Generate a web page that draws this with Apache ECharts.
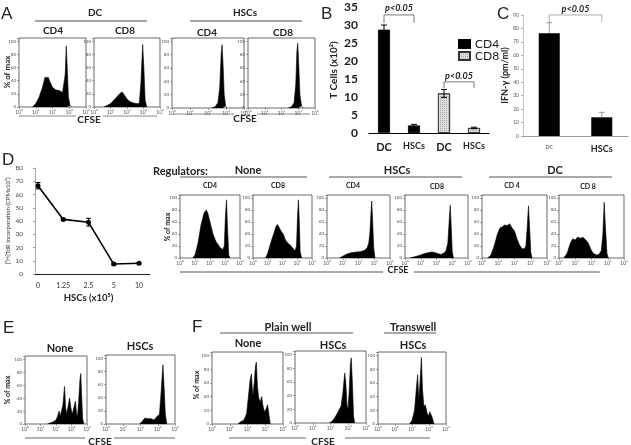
<!DOCTYPE html>
<html><head><meta charset="utf-8">
<script src="https://cdn.jsdelivr.net/npm/echarts@6/dist/echarts.min.js"></script>
<style>html,body{margin:0;padding:0;background:#fff}#c{width:631px;height:445px}</style>
</head><body><div id="c"></div>
<script>
// ---------- data ----------
const cfseTicks = ['10⁰','10¹','10²','10³','10⁴'];
// histograms: [log10 CFSE, % of max]
const aDcCd4 = [[0.8,0],[1.0,5],[1.2,15],[1.4,30],[1.55,45],[1.65,48],[1.75,45],[1.85,38],[2.0,30],[2.2,26],[2.4,25],[2.6,22],[2.7,25],[2.76,50],[2.82,93],[2.88,60],[2.95,15],[3.05,2],[3.15,0]];
const aDcCd8 = [[0.6,0],[1.0,5],[1.3,13],[1.55,20],[1.7,23],[1.85,18],[2.0,12],[2.2,8],[2.4,6],[2.6,5],[2.75,6],[2.85,40],[2.95,95],[3.02,60],[3.1,10],[3.2,0]];
const aHscCd4 = [[2.2,0],[2.4,2],[2.55,8],[2.65,30],[2.73,80],[2.78,95],[2.83,70],[2.9,20],[2.98,3],[3.05,0]];
const aHscCd8 = [[2.4,0],[2.6,2],[2.75,8],[2.85,35],[2.92,85],[2.97,97],[3.02,70],[3.1,20],[3.2,3],[3.3,0]];
const dNoneCd4 = [[0.85,0],[1.0,5],[1.2,25],[1.4,55],[1.6,75],[1.75,80],[1.85,75],[2.0,60],[2.2,40],[2.4,27],[2.55,22],[2.65,18],[2.75,20],[2.85,14],[2.95,20],[3.03,70],[3.1,97],[3.16,55],[3.25,5],[3.33,0]];
const dNoneCd8 = [[0.85,0],[1.0,8],[1.2,25],[1.4,40],[1.55,52],[1.65,56],[1.75,52],[1.9,45],[2.05,40],[2.2,30],[2.35,25],[2.5,22],[2.65,18],[2.75,20],[2.85,12],[2.95,20],[3.02,70],[3.08,97],[3.14,60],[3.2,10],[3.3,0]];
const dHscCd4 = [[0.8,0],[1.0,3],[1.3,7],[1.6,9],[1.9,10],[2.2,11],[2.4,13],[2.55,17],[2.65,25],[2.72,40],[2.78,70],[2.84,95],[2.9,60],[2.97,15],[3.05,0]];
const dHscCd8 = [[0.3,0],[0.6,2],[0.9,4],[1.2,7],[1.5,9],[1.7,10],[1.9,9],[2.1,7],[2.3,6],[2.45,8],[2.6,12],[2.72,25],[2.8,60],[2.87,88],[2.93,55],[3.0,10],[3.08,0]];
const dDcCd4 = [[0.35,0],[0.55,5],[0.75,20],[0.95,40],[1.1,50],[1.25,52],[1.4,55],[1.55,54],[1.7,57],[1.85,50],[2.0,45],[2.15,32],[2.3,22],[2.45,16],[2.6,15],[2.7,20],[2.78,50],[2.86,87],[2.93,50],[3.0,10],[3.08,0]];
const dDcCd8 = [[0.3,0],[0.5,8],[0.7,25],[0.85,32],[1.0,30],[1.15,35],[1.3,33],[1.5,34],[1.65,30],[1.8,25],[1.95,15],[2.1,8],[2.3,5],[2.45,6],[2.6,12],[2.7,40],[2.78,93],[2.86,50],[2.95,8],[3.03,0]];
const eNone = [[1.45,0],[1.55,2],[1.8,3],[2.0,6],[2.1,12],[2.2,20],[2.28,12],[2.35,10],[2.45,30],[2.55,58],[2.62,25],[2.7,15],[2.8,30],[2.88,40],[2.96,25],[3.05,15],[3.15,25],[3.25,35],[3.32,18],[3.38,10],[3.45,30],[3.55,70],[3.6,78],[3.66,40],[3.72,8],[3.8,0]];
const eHsc = [[1.95,0],[2.1,4],[2.25,9],[2.35,12],[2.45,8],[2.55,7],[2.62,8],[2.72,5],[2.8,6],[2.9,10],[3.0,8],[3.1,15],[3.2,50],[3.3,90],[3.36,60],[3.44,15],[3.52,0]];
const fNone = [[1.45,0],[1.6,3],[1.8,6],[1.95,15],[2.05,40],[2.15,65],[2.22,73],[2.3,40],[2.38,60],[2.45,85],[2.5,90],[2.56,55],[2.63,38],[2.72,32],[2.8,40],[2.86,28],[2.95,18],[3.05,22],[3.13,28],[3.2,15],[3.28,0]];
const fHsc = [[1.95,0],[2.1,3],[2.25,8],[2.4,15],[2.5,17],[2.6,25],[2.7,45],[2.8,73],[2.86,60],[2.93,25],[2.98,20],[3.05,45],[3.12,85],[3.17,95],[3.23,60],[3.3,10],[3.36,0]];
const fTransHsc = [[1.85,0],[2.0,5],[2.15,20],[2.25,50],[2.33,72],[2.4,35],[2.47,60],[2.55,97],[2.62,50],[2.7,25],[2.78,28],[2.85,30],[2.9,15],[2.98,12],[3.05,18],[3.1,20],[3.18,10],[3.3,0]];

// panel B
const bCategories = ['DC','HSCs','DC ','HSCs '];
const bCd4 = [28.7, 2.1, '-', '-'];
const bCd8 = ['-', '-', 11.0, 1.4];
const bErrHi = [30.0, 2.4, 12.1, 1.6];
const bErrLo = [27.4, 1.8, 9.9, 1.2];
// panel C
const cCategories = ['DC','HSCs'];
const cValues = [76.4, 13.9];
const cErrHi = [84.3, 17.6];
// panel D
const dDoses = ['0','1.25','2.5','5','10'];
const dValues = [66.6, 41.2, 39.0, 7.5, 8.1];
const dErrHi = [69.0, 42.0, 42.0, 8.3, 8.7];
const dErrLo = [64.2, 40.4, 36.2, 6.8, 7.5];
// significance brackets: [fromCat, toCat, level, dropTo, labelLevel]
const bBrackets = [[0,1,32.8,30.6,34.6],[2,3,14.2,12.5,15.9]];
const cBrackets = [[0,1,90,84.8,94.6]];
const pLabel = 'p<0.05';

// ---------- build ----------
const FONT = 'Lato';
const grids=[], xAxes=[], yAxes=[], series=[];
function addHist(box, data){
  const gi = grids.length;
  grids.push({left:box[0], top:box[1], width:box[2], height:box[3], show:true, borderColor:'#444', borderWidth:0.8});
  xAxes.push({gridIndex:gi, type:'value', min:0, max:4, interval:1, axisLine:{show:false}, splitLine:{show:false},
    axisTick:{show:true,length:2,lineStyle:{color:'#666',width:0.6}},
    axisLabel:{fontSize:5, color:'#555', margin:3, formatter:v=>cfseTicks[v]||''}});
  yAxes.push({gridIndex:gi, type:'value', min:0, max:105, interval:20, axisLine:{show:false}, splitLine:{show:false},
    axisTick:{show:true,length:2,lineStyle:{color:'#666',width:0.6}},
    axisLabel:{fontSize:4.5, color:'#555', margin:3, formatter:v=>(v%20===0&&v<=100)?String(v):''}});
  series.push({type:'line', xAxisIndex:gi, yAxisIndex:gi, data:data, symbol:'none', showSymbol:false,
    lineStyle:{color:'#000', width:0.6}, areaStyle:{color:'#000', opacity:1}, silent:true});
}
// A
addHist([19,38,67,69], aDcCd4);
addHist([94,38,66,69], aDcCd8);
addHist([172,38,72,70], aHscCd4);
addHist([248,38,67,70], aHscCd8);
// D histos
addHist([180,195,60,63], dNoneCd4);
addHist([253,195,59,63], dNoneCd8);
addHist([327,195,63,63], dHscCd4);
addHist([405,195,63,63], dHscCd8);
addHist([482,195,65,63], dDcCd4);
addHist([559,195,65,63], dDcCd8);
// E
addHist([25,356,62,68], eNone);
addHist([106,355,69,69], eHsc);
// F
addHist([212,352,71,72], fNone);
addHist([295,351,71,72], fHsc);
addHist([378,352,68,72], fTransHsc);

function errItem(color, capW, upOnly){
  return function(params, api){
    const c = api.coord([api.value(0), api.value(1)]);
    const hi = api.coord([api.value(0), api.value(2)]);
    const lo = api.coord([api.value(0), api.value(3)]);
    const st = {stroke:color, lineWidth:1};
    const ch = [
      {type:'line', shape:{x1:c[0],y1:hi[1],x2:c[0],y2:upOnly?c[1]:lo[1]}, style:st},
      {type:'line', shape:{x1:c[0]-capW,y1:hi[1],x2:c[0]+capW,y2:hi[1]}, style:st}];
    if(!upOnly) ch.push({type:'line', shape:{x1:c[0]-capW,y1:lo[1],x2:c[0]+capW,y2:lo[1]}, style:st});
    return {type:'group', children:ch};
  };
}
function bracketItem(color, fontSize){
  return function(params, api){
    const a = api.coord([api.value(0), api.value(2)]);
    const b = api.coord([api.value(1), api.value(2)]);
    const d = api.coord([api.value(0), api.value(3)]);
    const t = api.coord([api.value(0), api.value(4)]);
    const st = {stroke:color, lineWidth:0.8};
    return {type:'group', children:[
      {type:'line', shape:{x1:a[0],y1:a[1],x2:b[0],y2:b[1]}, style:st},
      {type:'line', shape:{x1:a[0],y1:a[1],x2:a[0],y2:d[1]}, style:st},
      {type:'line', shape:{x1:b[0],y1:b[1],x2:b[0],y2:d[1]}, style:st},
      {type:'text', x:(a[0]+b[0])/2, y:t[1], style:{text:pLabel, textAlign:'center', textVerticalAlign:'middle',
        font:'italic bold '+fontSize+'px '+FONT, fill:'#222'}}
    ]};
  };
}

// B
const gB = grids.length;
grids.push({left:369, top:7, width:120, height:126});
xAxes.push({gridIndex:gB, type:'category', data:bCategories, axisLine:{lineStyle:{color:'#000',width:1}}, axisTick:{show:false},
  axisLabel:{margin:9, interval:0, formatter:v=>v.trim()==='DC'?'{a|DC}':'{b|HSCs}',
    rich:{a:{fontSize:11,fontWeight:'bold',fontFamily:FONT,color:'#222'}, b:{fontSize:9,fontWeight:'bold',fontFamily:FONT,color:'#222'}}}});
yAxes.push({gridIndex:gB, type:'value', min:0, max:35, interval:5, axisLine:{show:false}, axisTick:{show:false}, splitLine:{show:false},
  axisLabel:{fontSize:12, fontFamily:FONT, fontWeight:'bold', color:'#222', margin:11},
  name:'T Cells (x10²)', nameLocation:'middle', nameGap:30, nameTextStyle:{fontSize:10, fontWeight:'bold', fontFamily:FONT, color:'#222'}});
series.push({type:'bar', name:'CD4', xAxisIndex:gB, yAxisIndex:gB, data:bCd4, barWidth:12, barGap:'-100%',
  itemStyle:{color:'#000', borderColor:'#000', borderWidth:0.8}});
series.push({type:'bar', name:'CD8', xAxisIndex:gB, yAxisIndex:gB, data:bCd8, barWidth:12, barGap:'-100%',
  itemStyle:{color:'#dedede', borderColor:'#333', borderWidth:0.8,
    decal:{symbol:'rect', symbolSize:1, color:'rgba(60,60,60,0.35)', dashArrayX:[[1,1]], dashArrayY:[1,1]}}});
series.push({type:'custom', xAxisIndex:gB, yAxisIndex:gB, renderItem:errItem('#000',3,false), clip:false, silent:true,
  data:bCategories.map((c,i)=>[i, (bCd4[i]==='-'?bCd8[i]:bCd4[i]), bErrHi[i], bErrLo[i]]), z:5});
series.push({type:'custom', xAxisIndex:gB, yAxisIndex:gB, renderItem:bracketItem('#555',9), clip:false, silent:true, data:bBrackets, z:5});

// C
const gC = grids.length;
grids.push({left:523, top:15, width:105, height:121});
xAxes.push({gridIndex:gC, type:'category', data:cCategories, axisLine:{lineStyle:{color:'#999',width:1}}, axisTick:{show:false},
  axisLabel:{margin:9, interval:0, formatter:v=>v==='DC'?'{a|DC}':'{b|HSCs}',
    rich:{a:{fontSize:5,fontFamily:FONT,color:'#333'}, b:{fontSize:9,fontWeight:'bold',fontFamily:FONT,color:'#222'}}}});
yAxes.push({gridIndex:gC, type:'value', min:0, max:90, interval:10, axisLine:{show:true, lineStyle:{color:'#aaa', width:0.8, type:'dotted'}},
  axisTick:{show:true, length:2, lineStyle:{color:'#aaa'}}, splitLine:{show:false},
  axisLabel:{fontSize:5, fontFamily:FONT, color:'#555', margin:4},
  name:'IFN-γ (pm/ml)', nameLocation:'middle', nameGap:12, nameTextStyle:{fontSize:9, fontWeight:'bold', fontFamily:FONT, color:'#222'}});
series.push({type:'bar', xAxisIndex:gC, yAxisIndex:gC, data:cValues, barWidth:21, itemStyle:{color:'#000'}});
series.push({type:'custom', xAxisIndex:gC, yAxisIndex:gC, renderItem:errItem('#999',3,true), clip:false, silent:true,
  data:cValues.map((v,i)=>[i, v, cErrHi[i], v]), z:5});
series.push({type:'custom', xAxisIndex:gC, yAxisIndex:gC, renderItem:bracketItem('#999',9), clip:false, silent:true, data:cBrackets, z:5});

// D line chart: axis frame grid + data grid
const gDa = grids.length;
grids.push({left:35, top:168, width:115, height:106});
xAxes.push({gridIndex:gDa, type:'value', min:0, max:1, axisLine:{show:true, lineStyle:{color:'#222', width:1}}, axisTick:{show:false}, axisLabel:{show:false}, splitLine:{show:false}});
yAxes.push({gridIndex:gDa, type:'value', min:0, max:80, interval:10, axisLine:{show:true, lineStyle:{color:'#999', width:0.8}},
  axisTick:{show:true, length:2, lineStyle:{color:'#999'}}, splitLine:{show:false},
  axisLabel:{fontSize:6.5, fontFamily:FONT, color:'#444', margin:12},
  name:'[³H]TdR Incorporation (CPMx10³)', nameLocation:'middle', nameGap:23, nameTextStyle:{fontSize:6, fontFamily:FONT, color:'#333'}});
const gDl = grids.length;
grids.push({left:38, top:168, width:101, height:106});
xAxes.push({gridIndex:gDl, type:'category', data:dDoses, boundaryGap:false, axisLine:{show:false}, axisTick:{show:false},
  axisLabel:{fontSize:7, fontFamily:FONT, color:'#333', margin:8, interval:0},
  name:'HSCs (x10⁵)', nameLocation:'middle', nameGap:19, nameTextStyle:{fontSize:9.5, fontWeight:'bold', fontFamily:FONT, color:'#222'}});
yAxes.push({gridIndex:gDl, type:'value', min:0, max:80, show:false});
series.push({type:'line', xAxisIndex:gDl, yAxisIndex:gDl, data:dValues, symbol:'circle', symbolSize:5,
  lineStyle:{color:'#000', width:1.6}, itemStyle:{color:'#000'}});
series.push({type:'custom', xAxisIndex:gDl, yAxisIndex:gDl, renderItem:errItem('#000',2.5,false), clip:false, silent:true,
  data:dValues.map((v,i)=>[i, v, dErrHi[i], dErrLo[i]]), z:1});

// ---------- text annotations ----------
function T(x,y,text,font,extra){
  return Object.assign({type:'text', x:x, y:y, silent:true, style:{text:text, font:font, fill:'#222', textAlign:'center', textVerticalAlign:'middle'}}, extra||{});
}
function TL(x,y,text,font){ return {type:'text', x:x, y:y, silent:true, style:{text:text, font:font, fill:'#222', textAlign:'left', textVerticalAlign:'middle'}}; }
function R(x,y,text,font){ return {type:'text', x:x, y:y, rotation:Math.PI/2, silent:true, style:{text:text, font:font, fill:'#222', textAlign:'center', textVerticalAlign:'middle'}}; }
function L(x1,y1,x2,y2,color,w){ return {type:'line', silent:true, shape:{x1:x1,y1:y1,x2:x2,y2:y2}, style:{stroke:color||'#888', lineWidth:w||1.2}}; }
const LET = '17px "Liberation Sans"';
const B10 = 'bold 10px '+FONT, B11='bold 11px '+FONT, B7='bold 7px '+FONT;
const graphics = [
  // A
  TL(1,14,'A',LET),
  T(95,13,'DC',B10), L(35,21,147,21,'#888',1.4),
  T(245,13,'HSCs',B10), L(190,21,302,21,'#888',1.4),
  T(53,31,'CD4',B10), T(125,31,'CD8',B10), T(207,33,'CD4',B10), T(283,33,'CD8',B10),
  R(7,72,'% of max','bold 8px '+FONT),
  T(89,120,'CFSE',B10), L(19,116,76,116,'#888',1.2), L(103,116,157,116,'#888',1.2),
  T(245,119,'CFSE',B10), L(173,114,234,114,'#888',1.2), L(257,114,310,114,'#888',1.2),
  // B, C
  TL(321,14,'B',LET), TL(497,14,'C',LET),
  // D
  TL(2,160,'D',LET),
  TL(153,171,'Regulators:',B11),
  T(248,170,'None',B11), L(180,177,307,177,'#555',1),
  T(397,170,'HSCs',B11), L(329,177,462,177,'#555',1),
  T(555,170,'DC',B11), L(489,177,612,177,'#555',1),
  T(210,186,'CD4',B7), T(278,186,'CD8',B7), T(353,186,'CD4',B7), T(437,187,'CD8',B7), T(512,186,'CD 4',B7), T(588,187,'CD 8',B7),
  R(168,227,'% of max',B7),
  T(398,270,'CFSE','bold 9px '+FONT), L(180,272,383,272,'#555',1), L(414,272,600,272,'#555',1),
  // E
  TL(3,328,'E',LET),
  T(60,348,'None',B11), T(140,346,'HSCs',B11),
  R(8,390,'% of max',B7),
  T(100,442,'CFSE',B10), L(25,438,85,438,'#999',1.5), L(114,438,175,438,'#999',1.5),
  // F
  TL(192,327,'F',LET),
  T(288,327,'Plain well',B11), L(220,333,353,333,'#555',1),
  T(413,327,'Transwell',B11), L(384,333,436,333,'#555',1),
  T(248,343,'None',B11), T(333,345,'HSCs',B11), T(413,345,'HSCs',B11),
  R(197,385,'% of max',B7),
  T(323,442,'CFSE',B10), L(229,438,306,438,'#999',1.5), L(345,438,430,438,'#999',1.5)
];

const chart = echarts.init(document.getElementById('c'), null, {renderer:'canvas', width:631, height:445});
chart.setOption({
  animation:false,
  backgroundColor:'#fff',
  textStyle:{fontFamily:FONT},
  legend:{data:['CD4','CD8'], orient:'vertical', left:453, top:33, itemWidth:11, itemHeight:8, itemGap:0, icon:'rect',
    textStyle:{fontSize:12, fontFamily:FONT, color:'#222'}, selectedMode:false},
  grid:grids, xAxis:xAxes, yAxis:yAxes, series:series, graphic:graphics
});
</script></body></html>
